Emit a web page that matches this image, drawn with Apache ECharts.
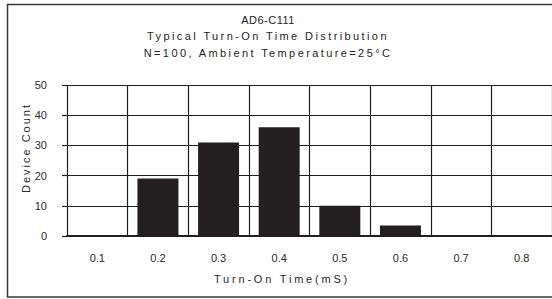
<!DOCTYPE html>
<html>
<head>
<meta charset="utf-8">
<script src="https://cdn.jsdelivr.net/npm/echarts@6/dist/echarts.min.js"></script>
<style>
html,body{margin:0;padding:0;background:#fff;}
#chart{width:552px;height:299px;}
</style>
</head>
<body>
<div id="chart"></div>
<script>
var categories = ['0.1', '0.2', '0.3', '0.4', '0.5', '0.6', '0.7', '0.8'];
var deviceCount = [0, 19, 31, 36, 10, 3.5, 0, 0];
var yTicks = [0, 10, 20, 30, 40, 50];
var titleLines = ['AD6-C111', 'Typical Turn-On Time Distribution', 'N=100, Ambient Temperature=25°C'];
var xName = 'Turn-On Time(mS)';
var yName = 'Device Count';

var ink = '#231f20';
var fontFam = '"Liberation Sans", Arial, sans-serif';

var dom = document.getElementById('chart');
var myChart = echarts.init(dom, null, {renderer: 'svg'});

var option = {
    animation: false,
    title: {
        text: titleLines[0],
        subtext: titleLines.slice(1).join('\n'),
        left: 268,
        top: 12,
        padding: 0,
        itemGap: 0,
        textAlign: 'center',
        textStyle: {
            color: ink,
            fontFamily: fontFam,
            fontSize: 11,
            fontWeight: 'normal',
            lineHeight: 16
        },
        subtextStyle: {
            color: ink,
            fontFamily: fontFam,
            fontSize: 11,
            lineHeight: 16.5
        }
    },
    grid: {
        left: 67,
        top: 85,
        right: -2,
        bottom: 63
    },
    xAxis: {
        type: 'category',
        data: categories,
        axisLine: {
            lineStyle: {color: ink, width: 2}
        },
        axisTick: {show: false},
        axisLabel: {
            color: '#2a2a2a',
            fontFamily: fontFam,
            fontSize: 11,
            margin: 16
        },
        splitLine: {
            show: true,
            lineStyle: {color: '#1e1e1e', width: 1.2}
        }
    },
    yAxis: {
        type: 'value',
        min: yTicks[0],
        max: yTicks[yTicks.length - 1],
        interval: yTicks[1] - yTicks[0],
        axisLine: {show: false},
        axisTick: {
            show: true,
            length: 5,
            lineStyle: {color: '#1e1e1e', width: 1.2}
        },
        axisLabel: {
            color: '#2a2a2a',
            fontFamily: fontFam,
            fontSize: 11,
            margin: 20
        },
        splitLine: {
            show: true,
            lineStyle: {color: '#1e1e1e', width: 1.2}
        }
    },
    graphic: [
        {
            type: 'rect',
            silent: true,
            z: -10,
            shape: {x: 7.5, y: 4.5, width: 600, height: 292.5},
            style: {fill: 'none', stroke: '#3a3a3a', lineWidth: 1.5}
        },
        {
            type: 'text',
            silent: true,
            x: 26,
            y: 148,
            rotation: Math.PI / 2,
            style: {
                text: yName,
                align: 'center',
                verticalAlign: 'middle',
                fill: '#2a2a2a',
                font: '11px ' + fontFam
            }
        },
        {
            type: 'text',
            silent: true,
            x: 282,
            y: 279,
            style: {
                text: xName,
                align: 'center',
                verticalAlign: 'middle',
                fill: '#2a2a2a',
                font: '11px ' + fontFam
            }
        }
    ],
    series: [{
        type: 'bar',
        barWidth: 41,
        itemStyle: {color: ink},
        data: deviceCount
    }]
};

myChart.setOption(option);

// widen letters on title lines and axis names like the original
var spacing = {};
spacing[titleLines[0]] = '0.5px';
spacing[titleLines[1]] = '2.4px';
spacing[titleLines[2]] = '2.4px';
spacing[xName] = '2.8px';
spacing[yName] = '2px';

function applySpacing(){
    var texts = dom.querySelectorAll('text');
    for (var i = 0; i < texts.length; i++) {
        var t = texts[i].textContent;
        if (spacing[t]) {
            texts[i].style.letterSpacing = spacing[t];
        }
    }
}
applySpacing();
myChart.on('finished', applySpacing);
</script>
</body>
</html>
